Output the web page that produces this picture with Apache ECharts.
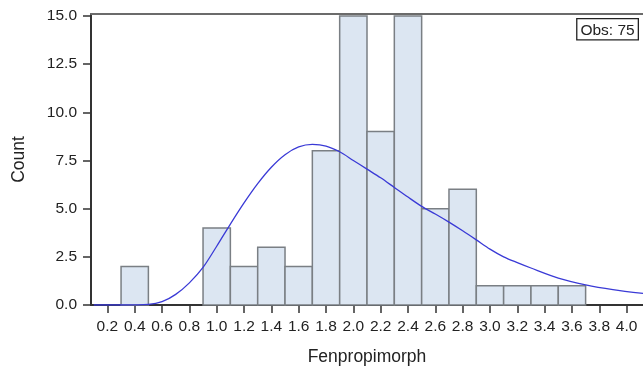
<!DOCTYPE html>
<html>
<head>
<meta charset="utf-8">
<title>Fenpropimorph</title>
<script src="https://cdn.jsdelivr.net/npm/echarts@6/dist/echarts.min.js"></script>
<style>
  html, body { margin: 0; padding: 0; background: #ffffff; }
  #chart { width: 643px; height: 372px; }
</style>
</head>
<body>
<div id="chart"></div>
<script>
// Histogram bins: lower edge of each bin, common width, and counts
const binStarts = [0.3, 0.5, 0.7, 0.9, 1.1, 1.3, 1.5, 1.7, 1.9, 2.1, 2.3, 2.5, 2.7, 2.9, 3.1, 3.3, 3.5];
const binWidth = 0.2;
const binCounts = [2, 0, 0, 4, 2, 3, 2, 8, 15, 9, 15, 5, 6, 1, 1, 1, 1];

// Fitted density curve, scaled to counts
const curveX = [0.10, 0.30, 0.50, 0.60, 0.70, 0.80, 0.90, 1.00, 1.10, 1.20, 1.30, 1.40, 1.50, 1.60, 1.70, 1.80, 1.90, 2.00, 2.10, 2.20, 2.30, 2.40, 2.50, 2.60, 2.70, 2.80, 2.90, 3.00, 3.10, 3.20, 3.30, 3.50, 3.70, 3.90, 4.12];
const curveY = [0.00, 0.00, 0.03, 0.17, 0.55, 1.15, 1.95, 3.05, 4.20, 5.30, 6.30, 7.15, 7.80, 8.20, 8.33, 8.25, 7.95, 7.50, 7.05, 6.60, 6.10, 5.60, 5.12, 4.72, 4.30, 3.85, 3.38, 2.90, 2.50, 2.20, 1.92, 1.40, 1.05, 0.80, 0.60];

// Axis ticks
const xTicks = [0.2, 0.4, 0.6, 0.8, 1.0, 1.2, 1.4, 1.6, 1.8, 2.0, 2.2, 2.4, 2.6, 2.8, 3.0, 3.2, 3.4, 3.6, 3.8, 4.0];
const yTicks = [0, 2.5, 5, 7.5, 10, 12.5, 15];

const obsCount = binCounts.reduce((a, b) => a + b, 0);

const histData = binStarts.map((s, i) => [s, s + binWidth, binCounts[i]]);
const curveData = curveX.map((x, i) => [x, curveY[i]]);

const FONT = 'Liberation Sans, Arial, Helvetica, sans-serif';
const AXIS = '#333333';
const TEXT = '#222222';

const chart = echarts.init(document.getElementById('chart'), null, { renderer: 'canvas' });

chart.setOption({
  animation: false,
  backgroundColor: '#ffffff',
  grid: { left: 91, right: 0, top: 14, bottom: 67, containLabel: false },
  xAxis: [{
    type: 'value',
    min: 0.08,
    max: 4.12,
    name: 'Fenpropimorph',
    nameLocation: 'middle',
    nameGap: 43,
    nameTextStyle: { color: TEXT, fontFamily: FONT, fontSize: 17.5 },
    splitLine: { show: false },
    axisLine: { show: true, onZero: false, lineStyle: { color: AXIS, width: 2 } },
    axisTick: { show: true, length: 8, customValues: xTicks, lineStyle: { color: AXIS, width: 1.5 } },
    axisLabel: {
      customValues: xTicks,
      margin: 14,
      color: TEXT,
      fontFamily: FONT,
      fontSize: 15.5,
      formatter: v => v.toFixed(1)
    }
  }, {
    // top frame edge
    type: 'value',
    position: 'top',
    min: 0.08,
    max: 4.12,
    splitLine: { show: false },
    axisLine: { show: true, onZero: false, lineStyle: { color: '#6b6b6b', width: 2 } },
    axisTick: { show: false },
    axisLabel: { show: false }
  }],
  yAxis: {
    type: 'value',
    min: 0,
    max: 15.1,
    name: 'Count',
    nameLocation: 'middle',
    nameGap: 63,
    nameTextStyle: { color: TEXT, fontFamily: FONT, fontSize: 17.5 },
    splitLine: { show: false },
    axisLine: { show: true, onZero: false, lineStyle: { color: AXIS, width: 2 } },
    axisTick: { show: true, length: 8, customValues: yTicks, lineStyle: { color: AXIS, width: 1.5 } },
    axisLabel: {
      customValues: yTicks,
      margin: 14,
      color: TEXT,
      fontFamily: FONT,
      fontSize: 15.5,
      formatter: v => v.toFixed(1)
    }
  },
  series: [{
    type: 'custom',
    xAxisIndex: 0,
    data: histData,
    encode: { x: [0, 1], y: 2 },
    renderItem: function (params, api) {
      const p0 = api.coord([api.value(0), api.value(2)]);
      const p1 = api.coord([api.value(1), 0]);
      if (api.value(2) <= 0) return null;
      return {
        type: 'rect',
        shape: { x: p0[0], y: p0[1], width: p1[0] - p0[0], height: p1[1] - p0[1] },
        style: { fill: '#dce6f2', stroke: '#7a7f84', lineWidth: 1.5 }
      };
    },
    z: 2
  }, {
    type: 'line',
    xAxisIndex: 0,
    data: curveData,
    smooth: 0.3,
    showSymbol: false,
    lineStyle: { color: '#3a3ad6', width: 1.3 },
    z: 3
  }],
  graphic: [{
    type: 'text',
    right: 4,
    top: 18,
    style: {
      text: 'Obs: ' + obsCount,
      fontFamily: FONT,
      fontSize: 15.5,
      fill: TEXT,
      borderColor: '#222',
      borderWidth: 1.3,
      backgroundColor: '#fff',
      padding: [3, 3, 1, 3]
    },
    z: 10
  }]
});
</script>
</body>
</html>
